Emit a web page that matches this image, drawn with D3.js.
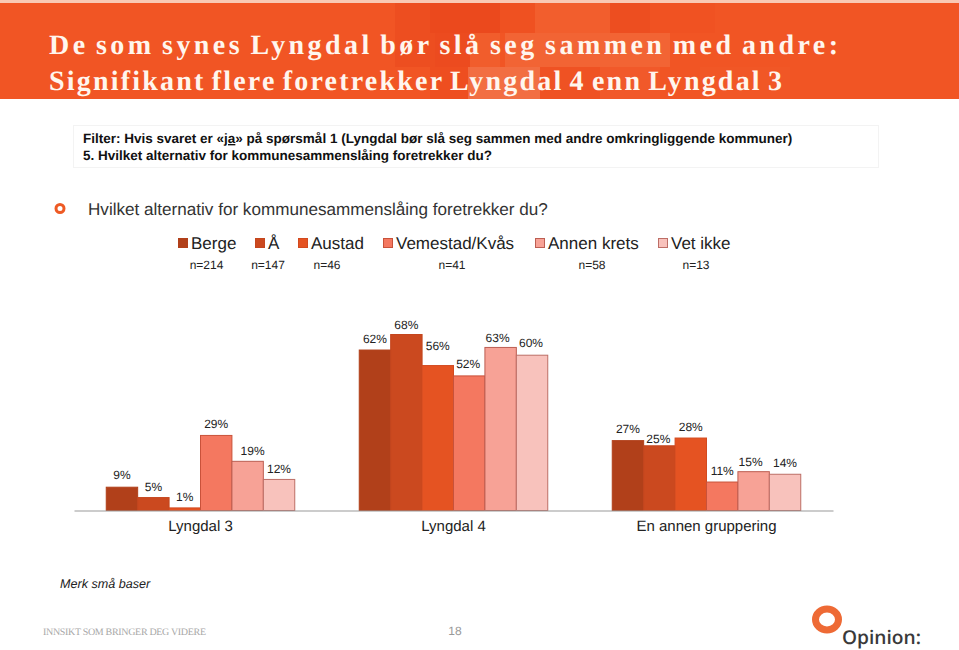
<!DOCTYPE html>
<html><head><meta charset="utf-8">
<script src="https://cdn.jsdelivr.net/npm/d3@7"></script>
<style>html,body{margin:0;padding:0;background:#fff}svg{display:block}text{font-family:"Liberation Sans",Arial,sans-serif;text-rendering:geometricPrecision}</style>
</head><body><svg id="c" width="959" height="650"></svg>
<script>
const categories = ["Lyngdal 3", "Lyngdal 4", "En annen gruppering"];
const seriesNames = ["Berge", "Å", "Austad", "Vemestad/Kvås", "Annen krets", "Vet ikke"];
const seriesN = ["n=214", "n=147", "n=46", "n=41", "n=58", "n=13"];
const berge = [9, 62, 27];
const aa = [5, 68, 25];
const austad = [1, 56, 28];
const vemestad = [29, 52, 11];
const annen = [19, 63, 15];
const vetIkke = [12, 60, 14];
const seriesValues = [berge, aa, austad, vemestad, annen, vetIkke];
const titleLines = ["De som synes Lyngdal bør slå seg sammen med andre:", "Signifikant flere foretrekker Lyngdal 4 enn Lyngdal 3"];

// styling and layout
const fills = ["#B1401A", "#CB491F", "#E55322", "#F47860", "#F7A296", "#F8C2BC"];
const strokes = ["#B1401A", "#C4461E", "#D24A1F", "#C9523A", "#BC5E52", "#BD6E66"];
const legendSquareX = [178, 255, 298, 383, 535, 658];
const nLabelX = [206.5, 268, 327, 452, 592, 696];
// manual label offsets [series][category]: dx, dy (from bar top to text middle)
const labelDx = [[0,0,0],[0,0,-1],[0,0,0],[0,-1,0],[5,-3,-3],[0,-1,0]];
const labelDy = [[-12,-11,-12],[-11,-10,-7],[-11.5,-20,-11.5],[-11.5,-12,-11.5],[-11,-10,-10],[-11,-12,-11]];
const headerPatches = [
  [395,3,35,30,"#E8431B",.4],[430,3,70,30,"#E63E16",.5],[500,3,35,30,"#EE4E20",.6],
  [395,33,40,34,"#E6421A",.35],[435,33,35,34,"#E8431B",.55],[470,33,30,34,"#F2683A",.4],
  [535,3,75,30,"#F4703F",.35],[505,33,165,34,"#F47343",.5],
  [610,3,40,30,"#E9471C",.5],[430,67,40,32,"#E8431B",.35],[468,67,72,32,"#F4875F",.5],
  [540,67,60,32,"#EE4E22",.4],[600,67,60,32,"#F26034",.4],[650,3,65,30,"#F04D20",.4],
  [700,67,90,32,"#F25A2A",.4]
];

const svg = d3.select("#c");
// header
svg.append("rect").attr("x",0).attr("y",0).attr("width",959).attr("height",3).attr("fill","#F9C9B4");
svg.append("rect").attr("x",0).attr("y",3).attr("width",959).attr("height",96).attr("fill","#F15524");
svg.append("g").selectAll("rect").data(headerPatches).join("rect")
  .attr("x",d=>d[0]).attr("y",d=>d[1]).attr("width",d=>d[2]).attr("height",d=>d[3]).attr("fill",d=>d[4]).attr("opacity",d=>d[5]);
const titleWidths = [789, 733], titleBase = [54, 90];
svg.append("g").selectAll("text").data(titleLines).join("text")
  .attr("x",49).attr("y",(d,i)=>titleBase[i]).attr("textLength",(d,i)=>titleWidths[i]).attr("lengthAdjust","spacing")
  .style("font-family","'Liberation Serif',serif").style("font-weight","bold").style("font-size","28px").style("word-spacing","-3px").attr("fill","#FFF6EE").text(d=>d);

// filter box
svg.append("rect").attr("x",73.5).attr("y",125.5).attr("width",805).attr("height",42).attr("fill","#fff").attr("stroke","#F3F3F3");
const ft = svg.append("text").attr("x",83).attr("y",143).style("font-size","13.5px").style("font-weight","bold").attr("fill","#111");
ft.append("tspan").text("Filter: Hvis svaret er «");
ft.append("tspan").attr("text-decoration","underline").text("ja");
ft.append("tspan").text("» på spørsmål 1 (Lyngdal bør slå seg sammen med andre omkringliggende kommuner)");
svg.append("text").attr("x",83).attr("y",160).style("font-size","13.5px").style("font-weight","bold").attr("fill","#111")
  .text("5. Hvilket alternativ for kommunesammenslåing foretrekker du?");

// question
svg.append("circle").attr("cx",60).attr("cy",208.5).attr("r",4).attr("fill","none").attr("stroke","#EE5A24").attr("stroke-width",3);
svg.append("text").attr("x",88).attr("y",215).style("font-size","17.1px").attr("fill","#333")
  .text("Hvilket alternativ for kommunesammenslåing foretrekker du?");

// legend
const leg = svg.append("g").selectAll("g").data(seriesNames).join("g");
leg.append("rect").attr("x",(d,i)=>legendSquareX[i]+.5).attr("y",238.5).attr("width",9).attr("height",9)
  .attr("fill",(d,i)=>fills[i]).attr("stroke",(d,i)=>strokes[i]);
leg.append("text").attr("x",(d,i)=>legendSquareX[i]+13).attr("y",249).style("font-size","17px").attr("fill","#222").text(d=>d);
svg.append("g").selectAll("text").data(seriesN).join("text")
  .attr("x",(d,i)=>nLabelX[i]).attr("y",269).attr("text-anchor","middle").style("font-size","12px").attr("fill","#222").text(d=>d);

// chart
const x0 = d3.scaleBand().domain(categories).range([74,833]);
const innerW = 188.5, innerOff = (x0.bandwidth()-innerW)/2;
const x1 = d3.scaleBand().domain(d3.range(seriesNames.length)).range([innerOff, innerOff+innerW]);
const y = d3.scaleLinear().domain([0,68]).range([510.5,334.5]);

const groups = svg.append("g").selectAll("g").data(categories).join("g").attr("transform",d=>`translate(${x0(d)},0)`);
groups.each(function(cat,ci){
  const g = d3.select(this);
  const rows = seriesValues.map((vals,si)=>({si,v:vals[ci]}));
  g.selectAll("rect").data(rows).join("rect")
    .attr("x",d=>x1(d.si)).attr("y",d=>y(d.v)).attr("width",x1.bandwidth()).attr("height",d=>y(0)-y(d.v))
    .attr("fill",d=>fills[d.si]).attr("stroke",d=>strokes[d.si]).attr("stroke-width",1);
  g.selectAll("text").data(rows).join("text")
    .attr("x",d=>x1(d.si)+x1.bandwidth()/2+labelDx[d.si][ci])
    .attr("y",d=>y(d.v)+labelDy[d.si][ci]+4.2)
    .attr("text-anchor","middle").style("font-size","12px").attr("fill","#222").text(d=>d.v+"%");
});
const axis = svg.append("g").attr("transform","translate(0,510.5)").call(d3.axisBottom(x0).tickSize(0).tickPadding(10));
axis.select(".domain").attr("stroke","#999").attr("stroke-width",1);
axis.selectAll("text").style("font-family","'Liberation Sans',sans-serif").style("font-size","15px").attr("fill","#222");

// notes / footer
svg.append("text").attr("x",60).attr("y",588).style("font-size","12.6px").style("font-style","italic").attr("fill","#222").text("Merk små baser");
svg.append("text").attr("x",43).attr("y",635).attr("textLength",163).attr("lengthAdjust","spacing")
  .style("font-family","'Liberation Serif',serif").style("font-size","10px").attr("fill","#A8A8A8").text("INNSIKT SOM BRINGER DEG VIDERE");
svg.append("text").attr("x",455).attr("y",635).attr("text-anchor","middle").style("font-size","12px").attr("fill","#999").text("18");
svg.append("ellipse").attr("cx",827).attr("cy",619.5).attr("rx",11.5).attr("ry",10.5).attr("fill","none").attr("stroke","#EE6A35").attr("stroke-width",7);
svg.append("text").attr("x",842).attr("y",644).attr("textLength",79).attr("lengthAdjust","spacingAndGlyphs")
  .style("font-family","'Open Sans',sans-serif").style("font-size","19px").style("font-weight","600").attr("fill","#3A3A3A").text("Opinion:");
</script></body></html>
